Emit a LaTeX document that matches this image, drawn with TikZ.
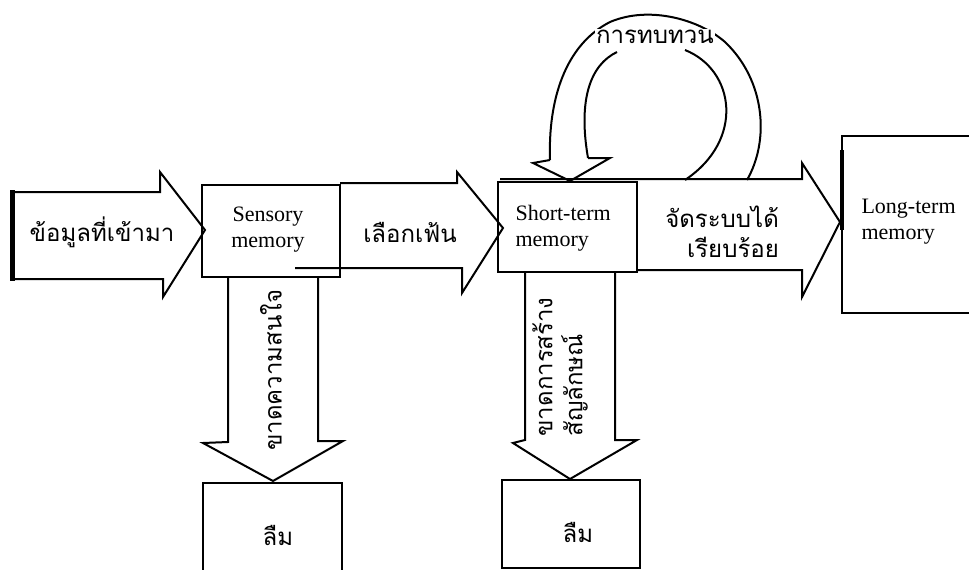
\documentclass[tikz,border=0pt]{standalone}
\usepackage{fontspec}
\setmainfont{Liberation Serif}
\newfontfamily\thai[Script=Thai]{Loma}
\begin{document}
\begin{tikzpicture}[x=1pt,y=-1pt,
  ln/.style={line width=2pt,line join=miter},
  th/.style={font=\thai\fontsize{24}{30}\selectfont},
  en/.style={font=\fontsize{22}{26}\selectfont,align=left}]
\useasboundingbox (0,0) rectangle (969,570);
% boxes
\draw[ln] (202,185) rectangle (340,277);
\node[en,align=center] (sens) at (268,230) {Sensory\\memory};
\draw[ln] (498,182) rectangle (637,272);
\node[en,anchor=west] (stm) at (512,228) {Short-term\\memory};
\draw[ln] (969,136) -- (842,136) -- (842,313) -- (969,313);
\node[en,anchor=west] (ltm) at (858,222) {Long-term\\memory};
\draw[ln] (203,575) -- (203,483) -- (342,483) -- (342,575);
\node[th] (f1) at (278,535) {ลืม};
\draw[ln] (502,480) rectangle (640,568);
\node[th] (f2) at (578,532) {ลืม};
% input arrow
\draw[ln] (12,192) -- (160,192) -- (160,172) -- (205,230) -- (163,297) -- (163,279) -- (12,279) -- cycle;
\draw[line width=5pt] (12,190) -- (12,281);
\node[th] (in) at (102,232) {ข้อมูลที่เข้ามา};
% selection arrow
\draw[ln] (340,183) -- (457,183) -- (457,172) -- (503,228) -- (462,293) -- (462,268) -- (295,268);
\node[th] (sel) at (410,232) {เลือกเฟ้น};
% organize arrow
\draw[ln] (500,179) -- (802,179) -- (802,163) -- (840,222) -- (802,297) -- (802,270) -- (637,270);
\draw[line width=4pt] (842,150) -- (842,230);
\node[th,align=right] (org) at (721,232) {จัดระบบได้\\\hspace*{1em}เรียบร้อย};
% loop arrow
\draw[ln] (550,160) .. controls (548,100) and (565,45) .. (610,22)
  .. controls (650,5) and (700,20) .. (725,42)
  .. controls (765,80) and (770,140) .. (747,180);
\draw[ln] (550,160) -- (533,163) -- (570,181) -- (610,158) -- (588,158);
\draw[ln] (588,158) .. controls (578,100) and (590,65) .. (617,52);
\draw[ln] (685,50) .. controls (735,70) and (745,140) .. (685,180);
\node[th,fill=white,inner sep=1pt] (rev) at (655,37) {การทบทวน};
% down arrow 1
\draw[ln] (228,277) -- (228,442) -- (203,443) -- (273,481) -- (343,441) -- (318,441) -- (318,277);
\node[th,rotate=90] (d1) at (271,370) {ขาดความสนใจ};
% down arrow 2
\draw[ln] (525,272) -- (525,440) -- (513,443) -- (570,479) -- (637,440) -- (615,440) -- (615,272);
\node[th,rotate=90,anchor=west,align=left] (d2) at (560,440) {ขาดการสร้าง\\สัญลักษณ์};
\end{tikzpicture}
\end{document}
